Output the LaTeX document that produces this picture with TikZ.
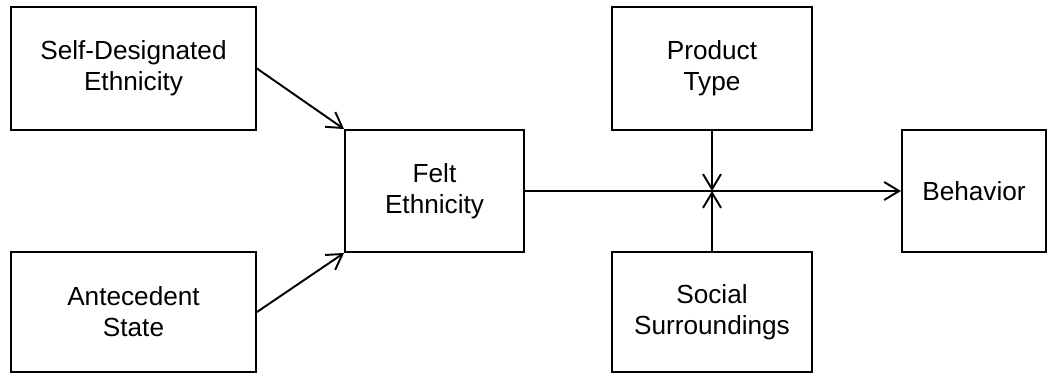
\documentclass[tikz,border=0pt]{standalone}
\usepackage{fontspec}
\setmainfont{Liberation Sans}
\usetikzlibrary{arrows.meta}
\begin{document}
\begin{tikzpicture}[x=0.02cm,y=-0.02cm,
  box/.style={draw,line width=1.1pt,align=center,inner sep=0pt,
    font=\fontsize{14.9}{17.6}\selectfont},
  link/.style={line width=1.1pt,-{Straight Barb[length=0.3cm,width=0.36cm,line width=1.1pt]}}]
\useasboundingbox (0,0) rectangle (1047,373);

\node[box,minimum width=4.9cm,minimum height=2.46cm] (self) at (133.5,68.5) {Self-Designated\\Ethnicity};
\node[box,minimum width=4.9cm,minimum height=2.4cm] (ante) at (133.5,312) {Antecedent\\State};
\node[box,minimum width=3.58cm,minimum height=2.44cm] (felt) at (434.5,191) {Felt\\Ethnicity};
\node[box,minimum width=4cm,minimum height=2.46cm] (prod) at (712,68.5) {Product\\Type};
\node[box,minimum width=4cm,minimum height=2.4cm] (soc) at (712,312) {Social\\Surroundings};
\node[box,minimum width=2.88cm,minimum height=2.44cm] (beh) at (974,191) {Behavior};

\coordinate (meet) at (prod.south |- felt.east);

\draw[link] (self.east) -- (felt.north west);
\draw[link] (ante.east) -- (felt.south west);
\draw[link] (felt.east) -- (beh.west);
\draw[link] (prod.south) -- (meet);
\draw[link] (soc.north) -- (meet);
\end{tikzpicture}
\end{document}
